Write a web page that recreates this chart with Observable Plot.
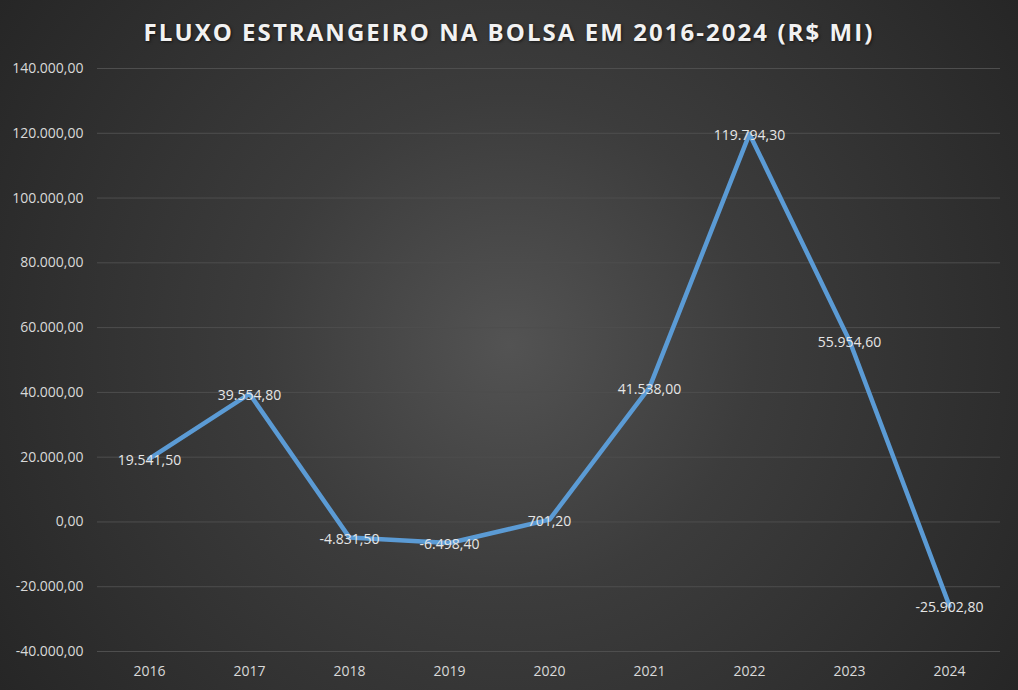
<!DOCTYPE html>
<html>
<head>
<meta charset="utf-8">
<script src="https://cdn.jsdelivr.net/npm/d3@7"></script>
<script src="https://cdn.jsdelivr.net/npm/@observablehq/plot@0.6"></script>
<style>
  html, body { margin: 0; padding: 0; background: #262626; }
  #wrap {
    width: 1018px; height: 690px; position: relative; overflow: hidden;
    background: radial-gradient(circle at 50% 50%, #535353 0%, #3c3c3c 40%, #262626 100%);
    font-family: "Open Sans", sans-serif;
  }
  #title {
    height: 55px; line-height: 64px; text-align: center;
    color: #f2f2f2; font-weight: 700; font-size: 24px; letter-spacing: 2.05px;
    text-shadow: 1px 1px 3px rgba(0,0,0,0.6);
  }
  svg { display: block; background: transparent !important; }
</style>
</head>
<body>
<div id="wrap">
  <div id="title">FLUXO ESTRANGEIRO NA BOLSA EM 2016-2024 (R$ MI)</div>
  <div id="chart"></div>
</div>
<script>
const years = ["2016","2017","2018","2019","2020","2021","2022","2023","2024"];
const values = [19541.5, 39554.8, -4831.5, -6498.4, 701.2, 41538.0, 119794.3, 55954.6, -25902.8];
const yTicks = [-40000, -20000, 0, 20000, 40000, 60000, 80000, 100000, 120000, 140000];

const data = years.map((y, i) => ({year: y, value: values[i]}));
const loc = d3.formatLocale({decimal: ",", thousands: ".", grouping: [3], currency: ["R$", ""], minus: "-"});
const fmt = loc.format(",.2f");

const chart = Plot.plot({
  width: 1018,
  height: 635,
  marginTop: 13,
  marginBottom: 39,
  marginLeft: 97,
  marginRight: 18,
  style: {background: "transparent", fontFamily: "Open Sans, sans-serif", fontSize: "14px", color: "#d9d9d9"},
  x: {type: "point", domain: years, padding: 0.5, label: null, tickSize: 0, tickPadding: 15},
  y: {domain: [-40000, 140000], ticks: yTicks, tickFormat: fmt, label: null, tickSize: 0, tickPadding: 14},
  marks: [
    Plot.ruleY(yTicks, {stroke: "#4e4e4e", strokeWidth: 1}),
    Plot.line(data, {x: "year", y: "value", stroke: "#5b9bd5", strokeWidth: 4.5, strokeLinejoin: "round", strokeLinecap: "round"}),
    Plot.text(data, {x: "year", y: "value", text: d => fmt(d.value), fill: "#e6e6e6", fontSize: 14, dy: 2})
  ]
});
document.getElementById("chart").appendChild(chart);
</script>
</body>
</html>
